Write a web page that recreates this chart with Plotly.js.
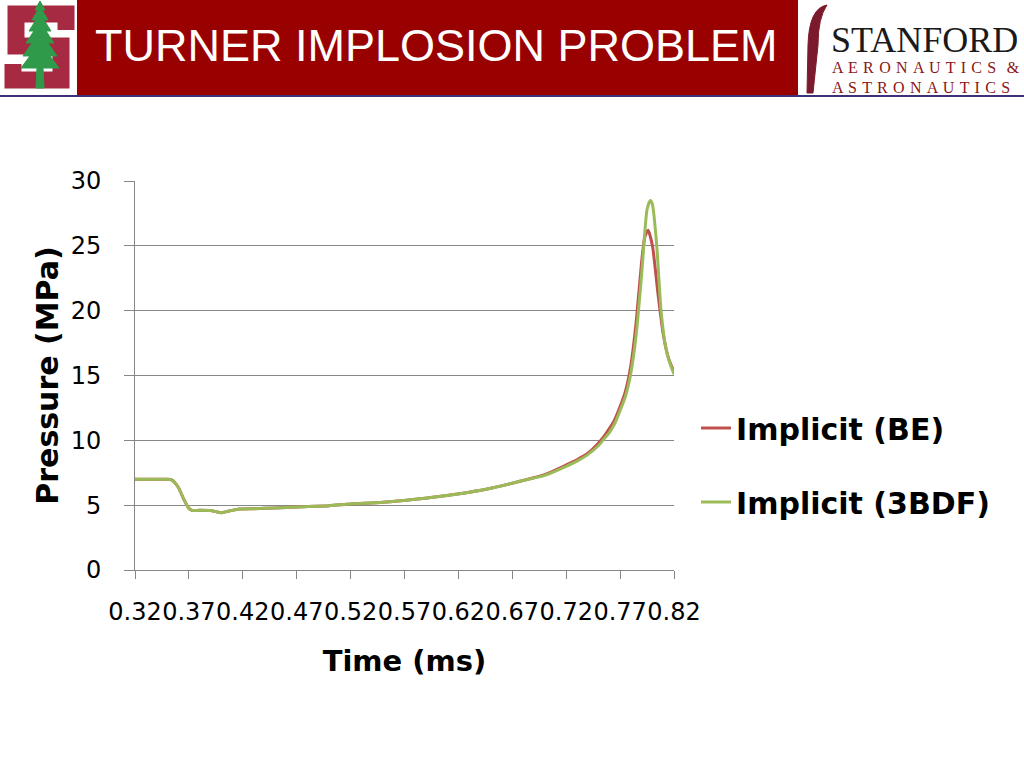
<!DOCTYPE html>
<html>
<head>
<meta charset="utf-8">
<script src="https://cdn.plot.ly/plotly-3.0.1.min.js"></script>
<style>
  html, body { margin: 0; padding: 0; background: #ffffff; }
  #chart { width: 1024px; height: 768px; }
</style>
</head>
<body>
<div id="chart"></div>
<script>
// ---- Data ----
const seriesNames = ["Implicit (BE)", "Implicit (3BDF)"];

const timeBE = [0.32, 0.33, 0.34, 0.35, 0.354, 0.36, 0.365, 0.37, 0.373, 0.38, 0.39, 0.395, 0.40, 0.405, 0.41, 0.417,
  0.43, 0.45, 0.47, 0.50, 0.52, 0.55, 0.58, 0.60, 0.63, 0.65, 0.68, 0.70, 0.72, 0.73, 0.74, 0.75, 0.755, 0.76, 0.765,
  0.77, 0.775, 0.78, 0.785, 0.79, 0.793, 0.796, 0.80, 0.805, 0.81, 0.815, 0.82];
const pressureBE = [7.0, 7.0, 7.0, 7.0, 6.95, 6.4, 5.5, 4.75, 4.6, 4.6, 4.58, 4.5, 4.42, 4.5, 4.6, 4.7,
  4.73, 4.78, 4.86, 4.96, 5.09, 5.22, 5.45, 5.65, 6.0, 6.3, 6.9, 7.35, 8.1, 8.5, 9.0, 9.8, 10.3, 10.9, 11.6,
  12.6, 13.8, 15.8, 19.2, 23.8, 25.7, 26.2, 25.0, 21.4, 18.2, 16.3, 15.3];

const time3BDF = [0.32, 0.33, 0.34, 0.35, 0.354, 0.36, 0.365, 0.37, 0.373, 0.38, 0.39, 0.395, 0.40, 0.405, 0.41, 0.417,
  0.43, 0.45, 0.47, 0.50, 0.52, 0.55, 0.58, 0.60, 0.63, 0.65, 0.68, 0.70, 0.72, 0.73, 0.74, 0.75, 0.755, 0.76, 0.765,
  0.77, 0.775, 0.78, 0.785, 0.79, 0.795, 0.798, 0.80, 0.804, 0.808, 0.812, 0.816, 0.82];
const pressure3BDF = [7.0, 7.0, 7.0, 7.0, 6.95, 6.4, 5.5, 4.75, 4.6, 4.6, 4.58, 4.5, 4.42, 4.5, 4.6, 4.7,
  4.73, 4.78, 4.86, 4.96, 5.09, 5.22, 5.45, 5.65, 6.0, 6.3, 6.9, 7.3, 8.0, 8.4, 8.9, 9.6, 10.1, 10.6, 11.3,
  12.3, 13.4, 15.2, 18.2, 22.8, 27.8, 28.5, 28.2, 25.0, 20.0, 17.3, 16.0, 15.1];

const xTickVals = [0.32, 0.37, 0.42, 0.47, 0.52, 0.57, 0.62, 0.67, 0.72, 0.77, 0.82];
const xTickText = ["0.32", "0.37", "0.42", "0.47", "0.52", "0.57", "0.62", "0.67", "0.72", "0.77", "0.82"];
const yTickVals = [0, 5, 10, 15, 20, 25, 30];

const headerTitle = "TURNER IMPLOSION PROBLEM";
const logoWord = "STANFORD";
const logoLine1 = "AERONAUTICS &";
const logoLine2 = "ASTRONAUTICS";
const xTitle = "Time (ms)";
const yTitle = "Pressure (MPa)";

// ---- Layout helpers (page pixels -> paper coordinates) ----
const W = 1024, H = 768;
const M = { l: 135, r: 350, t: 181, b: 198 };
const PW = W - M.l - M.r, PH = H - M.t - M.b;
const PX = x => (x - M.l) / PW;
const PY = y => (H - M.b - y) / PH;
function pathFromPixels(pts, close) {
  let s = pts.map((p, i) => (i === 0 ? "M" : "L") + PX(p[0]).toFixed(5) + "," + PY(p[1]).toFixed(5)).join(" ");
  return close ? s + " Z" : s;
}
// letter-spaced text (space + hair space between letters; word gaps widened)
const spaced = s => s.split(" ").map(w => w.split("").join(" \u200A")).join(" \u200A \u200A");

const chartFont = "DejaVu Sans, Verdana, sans-serif";
const axisGrey = "#868686";

const traces = [
  {
    x: timeBE, y: pressureBE, name: seriesNames[0], type: "scatter", mode: "lines",
    line: { color: "#C0504D", width: 3, shape: "spline", smoothing: 0.6 },
    legendgroup: "a"
  },
  {
    x: time3BDF, y: pressure3BDF, name: seriesNames[1], type: "scatter", mode: "lines",
    line: { color: "#9BBB59", width: 3, shape: "spline", smoothing: 0.6 },
    legendgroup: "b"
  }
];

// Stanford block S and tree (decorative logo)
const sPts = [[66,30],[66,14],[16,14],[16,46],[61,46],[61,80],[13,80],[13,64]];
const treePts = [[40,1],[45,10],[42,10],[48,20],[44,20],[51,31],[46,31],[54,43],[48,43],[57,56],[50,56],[59,68],
  [43,68],[44,88],[36,88],[37,68],[21,68],[30,56],[23,56],[32,43],[26,43],[34,31],[29,31],[36,20],[32,20],[38,10],[35,10]];
const arcPath = "M" + PX(807) + "," + PY(93) + " L" + PX(808) + "," + PY(45) +
  " Q" + PX(809) + "," + PY(8) + " " + PX(827) + "," + PY(5) +
  " Q" + PX(818) + "," + PY(18) + " " + PX(818) + "," + PY(45) +
  " L" + PX(813) + "," + PY(93) + " Z";

const shapes = [
  { type: "rect", xref: "paper", yref: "paper", x0: PX(77), x1: PX(798), y0: PY(95), y1: PY(0),
    fillcolor: "#990000", line: { width: 0 }, layer: "below" },
  { type: "line", xref: "paper", yref: "paper", x0: PX(0), x1: PX(1024), y0: PY(96), y1: PY(96),
    line: { color: "#3D2F78", width: 2 } },
  { type: "path", xref: "paper", yref: "paper", path: pathFromPixels(sPts, false),
    line: { color: "#A62A41", width: 17 } },
  { type: "path", xref: "paper", yref: "paper", path: pathFromPixels(treePts, true),
    fillcolor: "#2F9A4A", line: { color: "#2F9A4A", width: 1 } },
  { type: "path", xref: "paper", yref: "paper", path: arcPath,
    fillcolor: "#7B1A2C", line: { color: "#7B1A2C", width: 1 } }
];

const annotations = [
  { text: headerTitle, xref: "paper", yref: "paper", x: PX(93), y: PY(45), xanchor: "left", yanchor: "middle",
    showarrow: false, font: { family: "Liberation Sans, Arial, sans-serif", size: 45, color: "#ffffff" } },
  { text: logoWord, xref: "paper", yref: "paper", x: PX(829), y: PY(40), xanchor: "left", yanchor: "middle",
    showarrow: false, font: { family: "Liberation Serif, Times New Roman, serif", size: 36, color: "#1a1a1a" } },
  { text: spaced(logoLine1), xref: "paper", yref: "paper", x: PX(830), y: PY(68), xanchor: "left", yanchor: "middle",
    showarrow: false, font: { family: "Liberation Serif, Times New Roman, serif", size: 16, color: "#8C1515" } },
  { text: spaced(logoLine2), xref: "paper", yref: "paper", x: PX(830), y: PY(87), xanchor: "left", yanchor: "middle",
    showarrow: false, font: { family: "Liberation Serif, Times New Roman, serif", size: 16, color: "#8C1515" } }
];

const layout = {
  width: W, height: H,
  margin: { l: M.l, r: M.r, t: M.t, b: M.b, autoexpand: false },
  paper_bgcolor: "#ffffff", plot_bgcolor: "#ffffff",
  showlegend: true,
  legend: {
    x: PX(696), y: PY(402), xanchor: "left", yanchor: "top",
    font: { family: chartFont, size: 30, color: "#000000", weight: "bold" },
    traceorder: "grouped", tracegroupgap: 32, bgcolor: "rgba(0,0,0,0)"
  },
  xaxis: {
    range: [0.32, 0.82], tickmode: "array", tickvals: xTickVals, ticktext: xTickText, tickangle: 0,
    ticks: "outside", ticklen: 8, tickcolor: axisGrey, tickwidth: 1,
    showline: true, linecolor: axisGrey, linewidth: 1, showgrid: false, zeroline: false,
    tickfont: { family: chartFont, size: 24, color: "#000000" }, ticklabelstandoff: 12,
    title: { text: xTitle, standoff: 25, font: { family: chartFont, size: 29, color: "#000000", weight: "bold" } }
  },
  yaxis: {
    range: [0, 30], tickmode: "array", tickvals: yTickVals,
    ticks: "outside", ticklen: 10, tickcolor: axisGrey, tickwidth: 1,
    showline: true, linecolor: axisGrey, linewidth: 1, showgrid: true, gridcolor: axisGrey, gridwidth: 1,
    zeroline: false,
    tickfont: { family: chartFont, size: 24, color: "#000000" }, ticklabelstandoff: 18,
    title: { text: yTitle, standoff: 3, font: { family: chartFont, size: 30, color: "#000000", weight: "bold" } }
  },
  shapes: shapes,
  annotations: annotations
};

Plotly.newPlot("chart", traces, layout, { staticPlot: true, displayModeBar: false });
</script>
</body>
</html>
